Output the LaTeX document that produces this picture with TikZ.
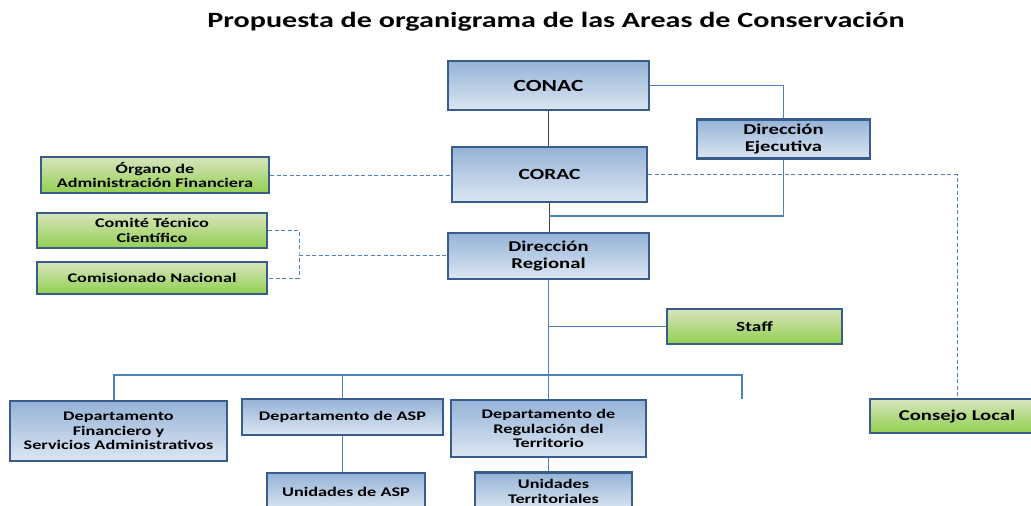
\documentclass[tikz,border=0pt]{standalone}
\usepackage{fontspec}
\setmainfont{Carlito}[FakeStretch=1.38]
\usepackage{tikz}
\usetikzlibrary{positioning,shadows}

\definecolor{boxline}{HTML}{385D8A}
\definecolor{bluetop}{HTML}{95B3D7}
\definecolor{bluebot}{HTML}{DCE6F2}
\definecolor{greentop}{HTML}{D7E4BD}
\definecolor{greenbot}{HTML}{92D050}
\definecolor{linkblue}{HTML}{4F81BD}

\tikzset{
    orgbox/.style={draw=boxline, line width=2.4pt, align=center, inner sep=2pt,
        font=\fontsize{13.2}{14.5}\selectfont\bfseries,
        drop shadow={shadow xshift=1.2pt, shadow yshift=-1.2pt, opacity=0.25}},
    mainbox/.style={orgbox, top color=bluetop, bottom color=bluebot},
    supportbox/.style={orgbox, top color=greentop, bottom color=greenbot},
    link/.style={draw=linkblue, line width=1.1pt},
    boardlink/.style={draw=black!75, line width=1.6pt},
    dashlink/.style={draw=linkblue, line width=1pt, dash pattern=on 4pt off 2.5pt}
}

\begin{document}
\begin{tikzpicture}[x=1pt, y=-1pt]
    \useasboundingbox (0,0) rectangle (1031,506);
    \clip (0,0) rectangle (1031,506);

    % Title
    \node[font=\fontsize{21.8}{23}\selectfont\bfseries] (title) at (556,22) {Propuesta de organigrama de las Areas de Conservación};

    % Central line
    \node[mainbox, minimum width=201, minimum height=49, font=\fontsize{17}{18}\selectfont\bfseries] (conac) at (548.5,85.5) {CONAC};
    \node[mainbox, minimum width=195, minimum height=55, font=\fontsize{15.5}{16}\selectfont\bfseries] (corac) at (549.5,174.5) {CORAC};
    \node[mainbox, minimum width=201, minimum height=46, font=\fontsize{15}{17.5}\selectfont\bfseries] (dirReg) at (548.5,256) {Dirección\\Regional};
    \node[mainbox, minimum width=173, minimum height=39, font=\fontsize{15}{17}\selectfont\bfseries] (dirEjec) at (783.5,139) {Dirección\\Ejecutiva};

    % Support units
    \node[supportbox, minimum width=228, minimum height=36] (organo) at (155,175) {Órgano de\\Administración Financiera};
    \node[supportbox, minimum width=230, minimum height=35] (comite) at (152,230.5) {Comité Técnico\\Científico};
    \node[supportbox, minimum width=230, minimum height=32] (comisionado) at (152,278) {Comisionado Nacional};
    \node[supportbox, minimum width=175, minimum height=35, font=\fontsize{14}{15}\selectfont\bfseries] (staff) at (754.5,326.5) {Staff};
    \node[supportbox, minimum width=174, minimum height=34, font=\fontsize{15}{16}\selectfont\bfseries] (consejo) at (957,416) {Consejo Local};

    % Departments
    \node[mainbox, minimum width=217, minimum height=60] (deptFin) at (118.5,431) {Departamento\\Financiero y\\Servicios Administrativos};
    \node[mainbox, minimum width=201, minimum height=36] (deptASP) at (342.5,417) {Departamento de ASP};
    \node[mainbox, minimum width=195, minimum height=57] (deptReg) at (548.5,428.5) {Departamento de\\Regulación del\\Territorio};
    \node[mainbox, minimum width=158, minimum height=38] (uniASP) at (346,492) {Unidades de ASP};
    \node[mainbox, minimum width=157, minimum height=38] (uniTer) at (553.5,491.5) {Unidades\\Territoriales};

    % Join points
    \coordinate (ejecJoin) at (549,216);
    \coordinate (advJoin) at (299,255);
    \coordinate (busL) at (114,375);
    \coordinate (busR) at (742,375);
    \coordinate (busStub) at (742,399);

    % Hierarchy
    \draw[boardlink] (conac.south) -- (conac.south |- corac.north);
    \draw[boardlink] (corac.south) -- (corac.south |- dirReg.north);
    \draw[link] (conac.east) -| (dirEjec.north);
    \draw[link] (dirEjec.south) |- (ejecJoin);
    \draw[link] (dirReg.south) -- (deptReg.north);
    \draw[link] (staff.west) -- (dirReg.south |- staff.west);
    \draw[link] (busL |- deptFin.north) -- (busL) -- (busR) -- (busStub);
    \draw[link] (deptASP.north) -- (deptASP.north |- busL);
    \draw[link] (deptASP.south) -- (deptASP.south |- uniASP.north);
    \draw[link] (deptReg.south) -- (deptReg.south |- uniTer.north);

    % Advisory (dashed)
    \draw[dashlink] (organo.east) -- (organo.east -| corac.west);
    \draw[dashlink] (corac.east) -| (consejo.north);
    \draw[dashlink] (comite.east) -| (advJoin) |- (comisionado.east);
    \draw[dashlink] (advJoin) -- (advJoin -| dirReg.west);
\end{tikzpicture}
\end{document}
